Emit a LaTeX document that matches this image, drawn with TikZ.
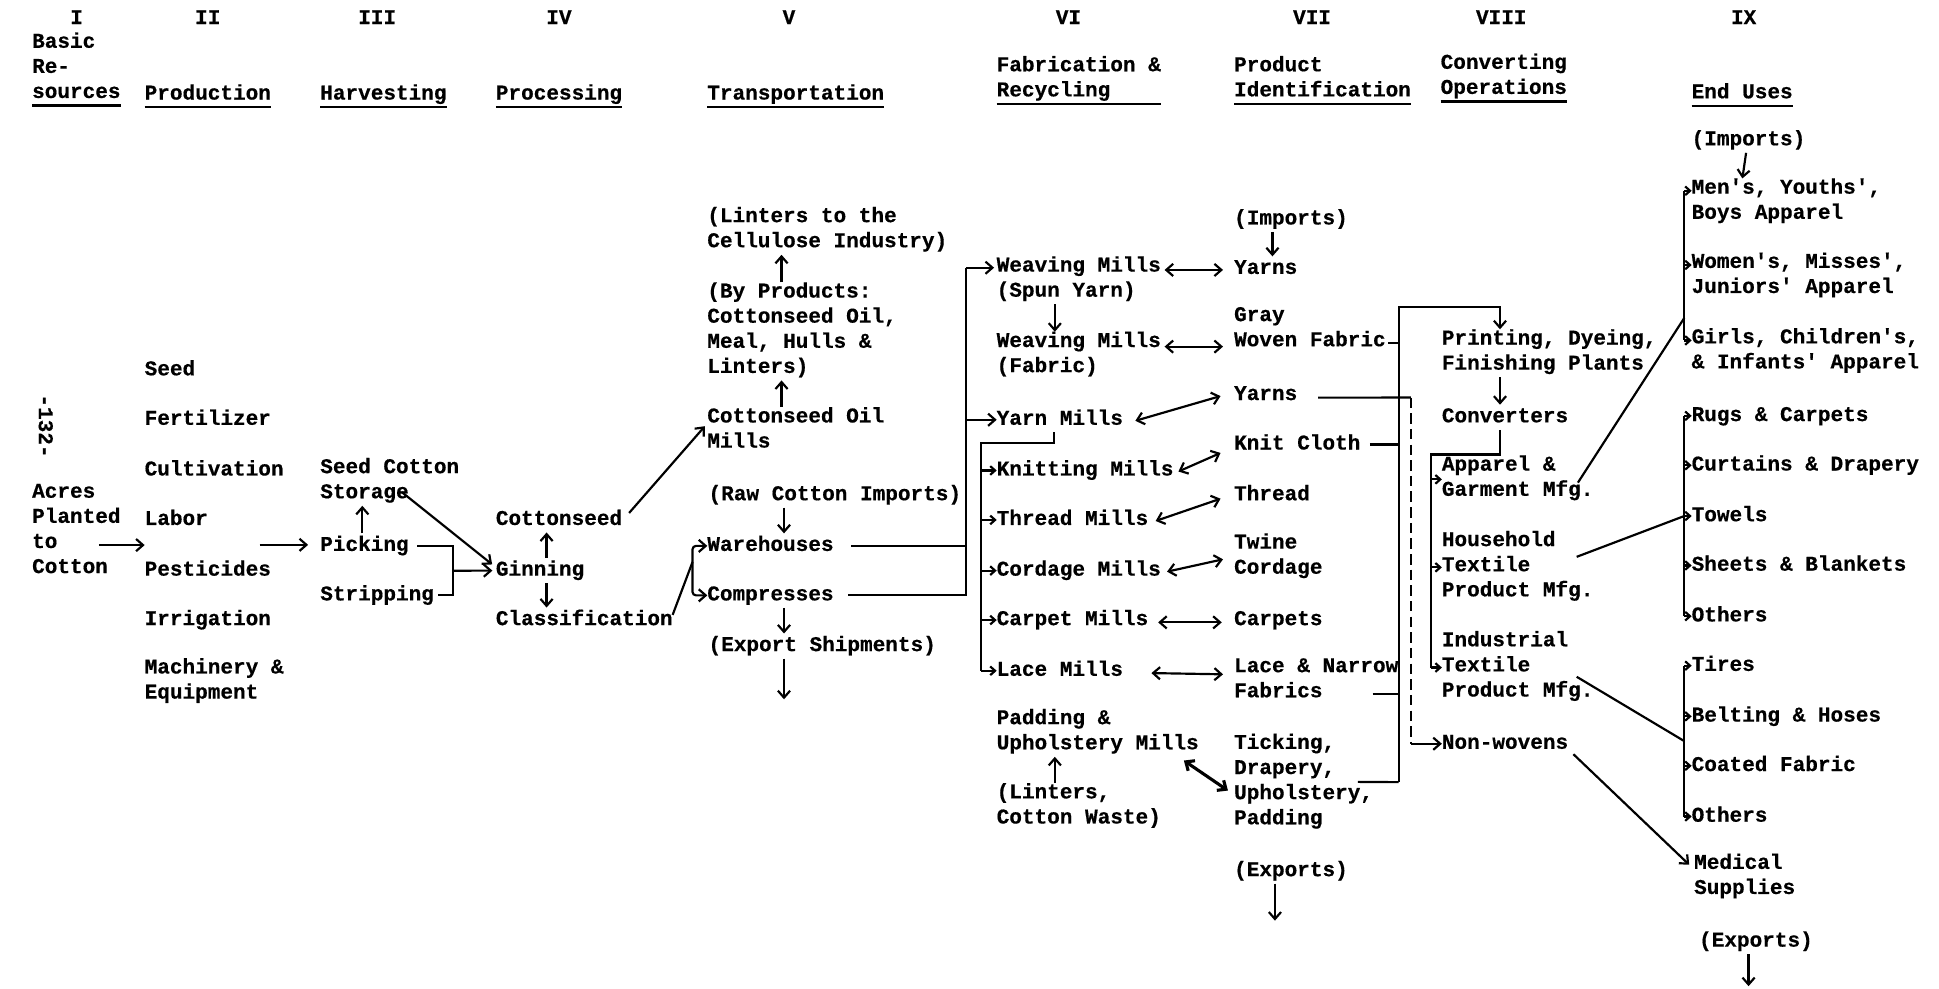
\documentclass[tikz,border=0pt]{standalone}
\usepackage{fontspec}
\newfontfamily\typew{Liberation Mono}[Ligatures=TeXOff, BoldFeatures={FakeBold=0.5}]
\usetikzlibrary{arrows.meta,calc}
\newcommand\twfont{\typew\bfseries\fontsize{12.1pt}{14.44pt}\selectfont}
\begin{document}
\begin{tikzpicture}[x=0.025cm, y=-0.025cm,
  txt/.style={anchor=north west, inner sep=0pt, outer sep=0pt, align=left,
    font=\twfont, execute at begin node=\strut, execute at end node=\strut,
    yshift=10.1pt},
  num/.style={txt, anchor=north},
  ln/.style={line width=1.25pt},
  uline/.style={line width=1.5pt},
  arr/.style={ln, -{Straight Barb[length=4pt,width=7pt]}},
  darr/.style={ln, {Straight Barb[length=4pt,width=7pt]}-{Straight Barb[length=4pt,width=7pt]}},
  tarr/.style={ln, -{Straight Barb[length=2.8pt,width=5pt]}},
]
\fill[white, use as bounding box] (0,-2.5) rectangle (1568,796.5);

% ---------- column numbers and headings ----------
\node[num] (rI)    at (62,17)   {I};
\node[num] (rII)   at (168,17)  {II};
\node[num] (rIII)  at (305,17)  {III};
\node[num] (rIV)   at (452,17)  {IV};
\node[num] (rV)    at (638,17)  {V};
\node[num] (rVI)   at (864,17)  {VI};
\node[num] (rVII)  at (1061,17) {VII};
\node[num] (rVIII) at (1214,17) {VIII};
\node[num] (rIX)   at (1410,17) {IX};

\node[txt] (hI)    at (26,38)   {Basic\\Re-\\sources};
\node[txt] (hII)   at (117,78)  {Production};
\node[txt] (hIII)  at (259,78)  {Harvesting};
\node[txt] (hIV)   at (401,78)  {Processing};
\node[txt] (hV)    at (572,78)  {Transportation};
\node[txt] (hVI)   at (806,57)  {Fabrication \&\\Recycling};
\node[txt] (hVII)  at (998,57)  {Product\\Identification};
\node[txt] (hVIII) at (1165,55) {Converting\\Operations};
\node[txt] (hIX)   at (1368,77) {End Uses};
\foreach \h in {hI,hII,hIII,hIV,hV,hVI,hVII,hVIII,hIX}
  \draw[uline] (\h.south west) -- (\h.south east);

% page number
\node[font=\twfont, rotate=-90, inner sep=0pt] (pageno) at (37,342) {-132-};

% ---------- I / II / III / IV ----------
\node[txt] (acres)     at (26,403)  {Acres\\Planted\\to\\Cotton};
\node[txt] (seed)      at (117,301) {Seed};
\node[txt] (fert)      at (117,341) {Fertilizer};
\node[txt] (cult)      at (117,382) {Cultivation};
\node[txt] (labor)     at (117,422) {Labor};
\node[txt] (pest)      at (117,463) {Pesticides};
\node[txt] (irrig)     at (117,503) {Irrigation};
\node[txt] (mach)      at (117,544) {Machinery \&\\Equipment};
\node[txt] (storage)   at (259,382) {Seed Cotton\\Storage};
\node[txt] (picking)   at (259,443) {Picking};
\node[txt] (stripping) at (259,483) {Stripping};
\node[txt] (cseed)     at (401,422) {Cottonseed};
\node[txt] (ginning)   at (401,463) {Ginning};
\node[txt] (classif)   at (401,503) {Classification};

% ---------- V ----------
\node[txt] (linters)  at (572,179) {(Linters to the\\Cellulose Industry)};
\node[txt] (byprod)   at (572,240) {(By Products:\\Cottonseed Oil,\\Meal, Hulls \&\\Linters)};
\node[txt] (oilmills) at (572,341) {Cottonseed Oil\\Mills};
\node[txt] (rawimp)   at (573,402) {(Raw Cotton Imports)};
\node[txt] (ware)     at (572,443) {Warehouses};
\node[txt] (compr)    at (572,483) {Compresses};
\node[txt] (expship)  at (573,524) {(Export Shipments)};

% ---------- VI ----------
\node[txt] (weavspun)  at (806,219) {Weaving Mills\\(Spun Yarn)};
\node[txt] (weavfab)   at (806,280) {Weaving Mills\\(Fabric)};
\node[txt] (yarnmills) at (806,341) {Yarn Mills};
\node[txt] (knit)      at (806,382) {Knitting Mills};
\node[txt] (threadm)   at (806,422) {Thread Mills};
\node[txt] (cordm)     at (806,463) {Cordage Mills};
\node[txt] (carpetm)   at (806,503) {Carpet Mills};
\node[txt] (lacem)     at (806,544) {Lace Mills};
\node[txt] (padding)   at (806,585) {Padding \&\\Upholstery Mills};
\node[txt] (linters2)  at (806,645) {(Linters,\\Cotton Waste)};

% ---------- VII ----------
\node[txt] (imp7)    at (998,179) {(Imports)};
\node[txt] (yarns1)  at (998,219) {Yarns};
\node[txt] (gray)    at (998,260) {Gray\\Woven Fabric};
\node[txt] (yarns2)  at (998,321) {Yarns};
\node[txt] (knitc)   at (998,361) {Knit Cloth};
\node[txt] (thread)  at (998,402) {Thread};
\node[txt] (twine)   at (998,443) {Twine\\Cordage};
\node[txt] (carpets) at (998,503) {Carpets};
\node[txt] (lace)    at (998,544) {Lace \& Narrow\\Fabrics};
\node[txt] (ticking) at (998,605) {Ticking,\\Drapery,\\Upholstery,\\Padding};
\node[txt] (exp7)    at (998,706) {(Exports)};

% ---------- VIII ----------
\node[txt] (printing)   at (1166,278) {Printing, Dyeing,\\Finishing Plants};
\node[txt] (converters) at (1166,339) {Converters};
\node[txt] (apparel)    at (1166,380) {Apparel \&\\Garment Mfg.};
\node[txt] (household)  at (1166,441) {Household\\Textile\\Product Mfg.};
\node[txt] (industrial) at (1166,522) {Industrial\\Textile\\Product Mfg.};
\node[txt] (nonwov)     at (1166,603) {Non-wovens};

% ---------- IX ----------
\node[txt] (imp9)     at (1368,115) {(Imports)};
\node[txt] (mens)     at (1368,156) {Men's, Youths',\\Boys Apparel};
\node[txt] (womens)   at (1368,216) {Women's, Misses',\\Juniors' Apparel};
\node[txt] (girls)    at (1368,277) {Girls, Children's,\\\& Infants' Apparel};
\node[txt] (rugs)     at (1368,338) {Rugs \& Carpets};
\node[txt] (curtains) at (1368,378) {Curtains \& Drapery};
\node[txt] (towels)   at (1368,419) {Towels};
\node[txt] (sheets)   at (1368,459) {Sheets \& Blankets};
\node[txt] (others1)  at (1368,500) {Others};
\node[txt] (tires)    at (1368,540) {Tires};
\node[txt] (belting)  at (1368,581) {Belting \& Hoses};
\node[txt] (coated)   at (1368,621) {Coated Fabric};
\node[txt] (others2)  at (1368,662) {Others};
\node[txt] (medical)  at (1370,702) {Medical\\Supplies};
\node[txt] (exp9)     at (1374,763) {(Exports)};

% ---------- connectors I -> IV ----------
\draw[arr] ($(acres.north west)+(54,49.5)$) coordinate (a1) -- (a1 -| labor.west);
\draw[arr, shorten >=7pt] ($(labor.south west)+(93,10)$) coordinate (b1) -- (b1 -| picking.west);
\draw[arr] (picking.north -| 293,0) -- (storage.south -| 293,0);
\draw[arr] ($(storage.south west)+(66,-11)$) -- ($(ginning.west)+(-3,-5)$);
\coordinate (jPS) at (366,459);
\draw[ln] ([xshift=5pt]picking.east) -| (jPS) |- ([xshift=2.5pt]stripping.east);
\draw[arr, shorten >=2pt] (jPS) -- (ginning.west);
\draw[arr] (ginning.north -| 442,0) -- (cseed.south -| 442,0);
\draw[arr] (ginning.south -| 442,0) -- (classif.north -| 442,0);
\draw[arr] ([xshift=4pt,yshift=4pt]cseed.east) -- ($(oilmills.west)+(-2,-4)$);
\coordinate (jWC) at (560,452);
\draw[ln] ([yshift=3pt]classif.east) -- (jWC);
\draw[arr, rounded corners=2pt] (jWC) |- (ware.west);
\draw[arr, rounded corners=2pt] (jWC) |- (compr.west);

% ---------- connectors in V ----------
\draw[arr] (oilmills.north -| 632,0) -- (byprod.south -| 632,0);
\draw[arr] (byprod.north -| 632,0) -- (linters.south -| 632,0);
\draw[arr] (rawimp.south -| 634,0) -- (ware.north -| 634,0);
\draw[arr] (compr.south -| 634,0) -- (expship.north -| 634,0);
\coordinate (expEnd) at (634,563);
\draw[arr] (expship.south -| expEnd) -- (expEnd);

% trunk to the mills
\coordinate (trTop) at (781,214);
\draw[ln] ([xshift=8.5pt]compr.east) -| (trTop);
\draw[ln] ([xshift=10pt]ware.east) -- (ware.east -| trTop);
\draw[arr, shorten >=1.5pt] (trTop) -- (trTop -| weavspun.west);
\draw[arr] (trTop |- yarnmills.west) -- (yarnmills.west);

% ---------- connectors in VI ----------
\draw[arr] (weavspun.south -| 853,0) -- (weavfab.north -| 853,0);
\coordinate (ymJ) at (793,356);
\draw[ln] (yarnmills.south -| 852,0) |- (ymJ) -- (ymJ |- lacem.west);
\foreach \m in {knit,threadm,cordm,carpetm,lacem}
  \draw[tarr] (ymJ |- \m.west) -- (\m.west);
\draw[arr] (linters2.north -| 853,0) -- (padding.south -| 853,0);

% mills <-> products
\draw[darr] ($(weavspun.north east)+(3,11)$) -- ($(yarns1.north west)+(-9,11)$);
\draw[darr] ($(weavfab.north east)+(3,12)$) -- ($(gray.north west)+(-9,32)$);
\draw[darr] ($(yarnmills.north east)+(10,11)$) -- ($(yarns2.north west)+(-11,11)$);
\draw[darr] ($(knit.north east)+(4,11)$) -- ($(knitc.north west)+(-11,17)$);
\draw[darr] ($(threadm.north east)+(6,11)$) -- ($(thread.north west)+(-11,13)$);
\draw[darr] ($(cordm.north east)+(5,11)$) -- ($(twine.north west)+(-9,21)$);
\draw[darr] ($(carpetm.north east)+(8,12)$) -- ($(carpets.north west)+(-10,12)$);
\draw[darr] ($(lacem.north east)+(23,12)$) -- ($(lace.north west)+(-9,13)$);
\draw[darr, line width=1.8pt] ($(padding.south east)+(-12,3)$) -- ($(ticking.north west)+(-5,46)$);

% ---------- connectors in VII ----------
\draw[arr] (imp7.south -| 1029,0) -- (yarns1.north -| 1029,0);
\coordinate (exp7End) at (1031,742);
\draw[arr] (exp7.south -| exp7End) -- (exp7End);
\coordinate (brTop) at (1131,246);
\coordinate (brBot) at (1131,630);
\draw[arr] (brBot) -- (brTop) -| (printing.north -| 1213,0);
\draw[ln] ($(gray.south east)+(2,-9)$) coordinate (s1) -- (s1 -| brTop);
\draw[ln] ([xshift=5.5pt]knitc.east) -- (knitc.east -| brTop);
\draw[ln] ($(lace.south west)+(112,-9)$) coordinate (s2) -- (s2 -| brTop);
\draw[ln] ($(ticking.north west)+(100,39)$) -- (brBot);
\coordinate (dTop) at (1141,319);
\draw[ln] ([xshift=12pt,yshift=-1.5pt]yarns2.east) -- (dTop);
\draw[ln, dash pattern=on 6pt off 3pt] (dTop) -- (dTop |- nonwov.west);
\draw[arr] (dTop |- nonwov.west) -- (nonwov.west);

% ---------- connectors in VIII ----------
\draw[arr] (printing.south -| 1213,0) -- (converters.north -| 1213,0);
\coordinate (cvJ) at (1157,365);
\draw[ln] (converters.south -| 1213,0) |- (cvJ) -- (cvJ |- industrial.west);
\foreach \m in {apparel,household,industrial}
  \draw[tarr] (cvJ |- \m.west) -- (\m.west);

% ---------- end-use groups ----------
\coordinate (bx) at (1362,0);
\foreach \n/\c in {mens/tMen,womens/tWom,girls/tGirl,rugs/tRug,curtains/tCur,
    towels/tTow,sheets/tShe,others1/tOthA,tires/tTir,belting/tBel,coated/tCoa,others2/tOthB}
  \path ($(\n.north west)+(0,10)$) coordinate (\c);
\draw[ln] (tMen -| bx) -- (tGirl -| bx);
\draw[ln] (tRug -| bx) -- (tOthA -| bx);
\draw[ln] (tTir -| bx) -- (tOthB -| bx);
\foreach \c in {tMen,tWom,tGirl,tRug,tCur,tTow,tShe,tOthA,tTir,tBel,tCoa,tOthB}
  \draw[tarr] (\c -| bx) -- (\c);
\draw[ln] ($(apparel.north west)+(110,22)$) -- ($(tMen -| bx)!0.85!(tGirl -| bx)$);
\draw[ln] ($(household.north west)+(109,21)$) -- (tTow -| bx);
\draw[ln] ($(industrial.north west)+(109,37)$) -- ($(tBel -| bx)!0.5!(tCoa -| bx)$);
\draw[arr] ([xshift=3pt,yshift=-6pt]nonwov.east) -- ($(medical.north west)+(-4,9)$);
\draw[arr] (imp9.south -| 1412,0) -- (mens.north -| 1409,0);
\coordinate (exp9End) at (1414,795);
\draw[arr] (exp9.south -| exp9End) -- (exp9End);
\end{tikzpicture}
\end{document}
